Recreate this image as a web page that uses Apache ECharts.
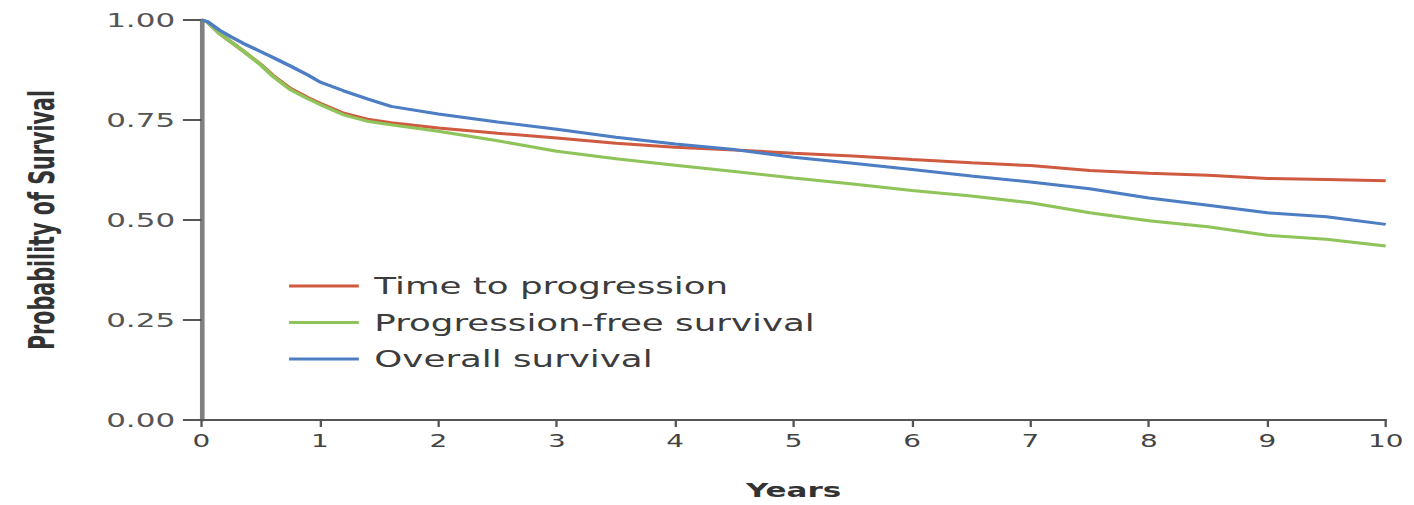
<!DOCTYPE html>
<html>
<head>
<meta charset="utf-8">
<script src="https://cdn.jsdelivr.net/npm/echarts@6/dist/echarts.min.js"></script>
<style>
html,body{margin:0;padding:0;background:#fff;overflow:hidden;}
#chart{width:912px;height:505px;transform:scaleX(1.55);transform-origin:0 0;}
</style>
</head>
<body>
<div id="chart"></div>
<script>
var years = [0, 0.05, 0.15, 0.25, 0.35, 0.5, 0.6, 0.75, 0.9, 1, 1.2, 1.4, 1.6, 2, 2.5, 3, 3.5, 4, 4.5, 5, 5.5, 6, 6.5, 7, 7.5, 8, 8.5, 9, 9.5, 10];
var timeToProgression = [1.0, 0.995, 0.967, 0.945, 0.923, 0.889, 0.862, 0.829, 0.806, 0.792, 0.767, 0.752, 0.743, 0.73, 0.717, 0.705, 0.692, 0.682, 0.675, 0.667, 0.66, 0.651, 0.643, 0.636, 0.624, 0.617, 0.612, 0.604, 0.601, 0.598];
var progressionFree = [1.0, 0.995, 0.967, 0.945, 0.923, 0.888, 0.86, 0.826, 0.803, 0.789, 0.763, 0.747, 0.738, 0.722, 0.698, 0.672, 0.653, 0.637, 0.621, 0.605, 0.59, 0.574, 0.56, 0.543, 0.518, 0.498, 0.483, 0.462, 0.452, 0.435];
var overallSurvival = [1.0, 0.996, 0.975, 0.958, 0.942, 0.921, 0.907, 0.885, 0.862, 0.845, 0.823, 0.803, 0.784, 0.765, 0.745, 0.727, 0.707, 0.69, 0.676, 0.657, 0.642, 0.626, 0.61, 0.595, 0.578, 0.555, 0.537, 0.518, 0.508, 0.489];
var seriesNames = ['Time to progression', 'Progression-free survival', 'Overall survival'];
var seriesColors = ['#cf5a3f', '#8fc45a', '#4d7ec4'];
var yTickLabels = ['0.00', '0.25', '0.50', '0.75', '1.00'];

function pairs(vals) { return years.map(function (x, i) { return [x, vals[i]]; }); }
var allVals = [timeToProgression, progressionFree, overallSurvival];

var chart = echarts.init(document.getElementById('chart'), null, {renderer: 'svg'});
chart.setOption({
  animation: false,
  backgroundColor: '#ffffff',
  grid: {left: 130, right: 18, top: 20, bottom: 85, containLabel: false},
  legend: {
    orient: 'vertical', left: 181.5, top: 269,
    icon: 'rect', itemWidth: 45, itemHeight: 3, itemGap: 12.5,
    data: seriesNames,
    textStyle: {color: '#3c3c3c', fontSize: 23, fontFamily: 'DejaVu Sans', lineHeight: 24, padding: [0, 0, 0, 5]}
  },
  xAxis: {
    type: 'value', min: 0, max: 10, interval: 1,
    name: 'Years', nameLocation: 'middle', nameGap: 60,
    nameTextStyle: {fontSize: 20, fontWeight: 'bold', color: '#333', fontFamily: 'DejaVu Sans'},
    axisLine: {show: true, onZero: false, lineStyle: {color: '#555', width: 2}},
    axisTick: {show: true, length: 7, lineStyle: {color: '#555', width: 1.5}},
    axisLabel: {color: '#444', fontSize: 18, margin: 12, fontFamily: 'DejaVu Sans'},
    splitLine: {show: false}
  },
  yAxis: {
    type: 'value', min: 0, max: 1, interval: 0.25,
    name: 'Probability of Survival', nameLocation: 'middle', nameGap: 92,
    nameTextStyle: {fontSize: 23, fontWeight: 'bold', color: '#333', fontFamily: '"DejaVu Sans Condensed", "Liberation Sans Narrow", "DejaVu Sans", sans-serif'},
    axisLine: {show: true, onZero: false, lineStyle: {color: '#808080', width: 3}},
    axisTick: {show: true, length: 12, lineStyle: {color: '#555', width: 2}},
    axisLabel: {color: '#555', fontSize: 20, margin: 17, fontFamily: 'DejaVu Sans',
      formatter: function (v) { return yTickLabels[Math.round(v / 0.25)]; }},
    splitLine: {show: false}
  },
  series: seriesNames.map(function (n, i) {
    return {
      name: n, type: 'line', data: pairs(allVals[i]),
      symbol: 'none', showSymbol: false, smooth: false,
      lineStyle: {color: seriesColors[i], width: 3},
      itemStyle: {color: seriesColors[i]}
    };
  })
});
</script>
</body>
</html>
